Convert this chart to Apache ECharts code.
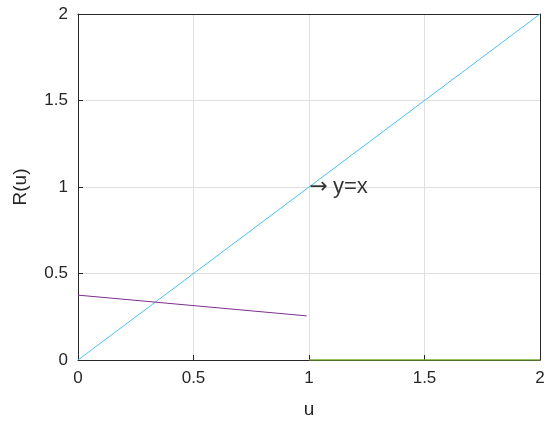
<!DOCTYPE html>
<html>
<head>
<meta charset="utf-8">
<script src="https://cdn.jsdelivr.net/npm/echarts@6/dist/echarts.min.js"></script>
<style>
  html, body { margin: 0; padding: 0; background: #fff; }
  #chart { width: 550px; height: 426px; }
</style>
</head>
<body>
<div id="chart"></div>
<script>
// data
const lineX = [0, 2];
const lineY = [0, 2];
const purpleX = [0, 0.99];
const purpleY = [0.375, 0.255];
const greenX = [1, 2];
const greenY = [0, 0];
const notePoint = [1, 1];
const noteText = 'y=x';
const tickLabels = ['0', '0.5', '1', '1.5', '2'];

const pairs = (xs, ys) => xs.map((x, i) => [x, ys[i]]);

const chart = echarts.init(document.getElementById('chart'));
const font = 'Liberation Sans, Arial, sans-serif';

const axisCommon = {
  min: 0, max: 2, interval: 0.5,
  axisLine: { show: true, onZero: false, lineStyle: { color: '#262626', width: 1 } },
  axisTick: { show: true, inside: true, length: 5, lineStyle: { color: '#262626' } },
  splitLine: { show: true, lineStyle: { color: '#dfdfdf', width: 1 } }
};

chart.setOption({
  animation: false,
  grid: { left: 78, right: 10, top: 14, bottom: 66, containLabel: false },
  xAxis: [
    Object.assign({}, axisCommon, {
      type: 'value', position: 'bottom',
      name: 'u', nameLocation: 'middle', nameGap: 40,
      nameTextStyle: { fontFamily: font, fontSize: 19, color: '#262626' },
      axisLabel: { fontFamily: font, fontSize: 17, color: '#262626', margin: 10,
        formatter: v => tickLabels[Math.round(v * 2)] }
    }),
    Object.assign({}, axisCommon, {
      type: 'value', position: 'top',
      axisLabel: { show: false }, axisTick: { show: false }, splitLine: { show: false }
    })
  ],
  yAxis: [
    Object.assign({}, axisCommon, {
      type: 'value', position: 'left',
      name: 'R(u)', nameLocation: 'middle', nameGap: 48,
      nameTextStyle: { fontFamily: font, fontSize: 19, color: '#262626' },
      axisLabel: { fontFamily: font, fontSize: 17, color: '#262626', margin: 10,
        formatter: v => tickLabels[Math.round(v * 2)] }
    }),
    Object.assign({}, axisCommon, {
      type: 'value', position: 'right',
      axisLabel: { show: false }, axisTick: { show: false }, splitLine: { show: false }
    })
  ],
  series: [
    {
      type: 'line', data: pairs(lineX, lineY), symbol: 'none',
      lineStyle: { color: '#4DBEEE', width: 1 }
    },
    {
      type: 'line', data: pairs(purpleX, purpleY), symbol: 'none',
      lineStyle: { color: '#7E2F8E', width: 1 }
    },
    {
      type: 'line', data: pairs(greenX, greenY), symbol: 'none',
      lineStyle: { color: '#77AC30', width: 1.5 }
    },
    {
      type: 'scatter', data: [notePoint], symbol: 'circle', symbolSize: 1,
      itemStyle: { color: 'rgba(0,0,0,0)' },
      z: 10, silent: true,
      label: {
        show: true, position: 'right', distance: 0,
        formatter: '{a|\u2192}{b|' + noteText + '}',
        rich: {
          a: { fontFamily: 'DejaVu Sans', fontSize: 22, color: '#000', padding: [0, 5, 0, 0] },
          b: { fontFamily: font, fontSize: 22, color: '#000' }
        }
      }
    }
  ]
});
</script>
</body>
</html>
